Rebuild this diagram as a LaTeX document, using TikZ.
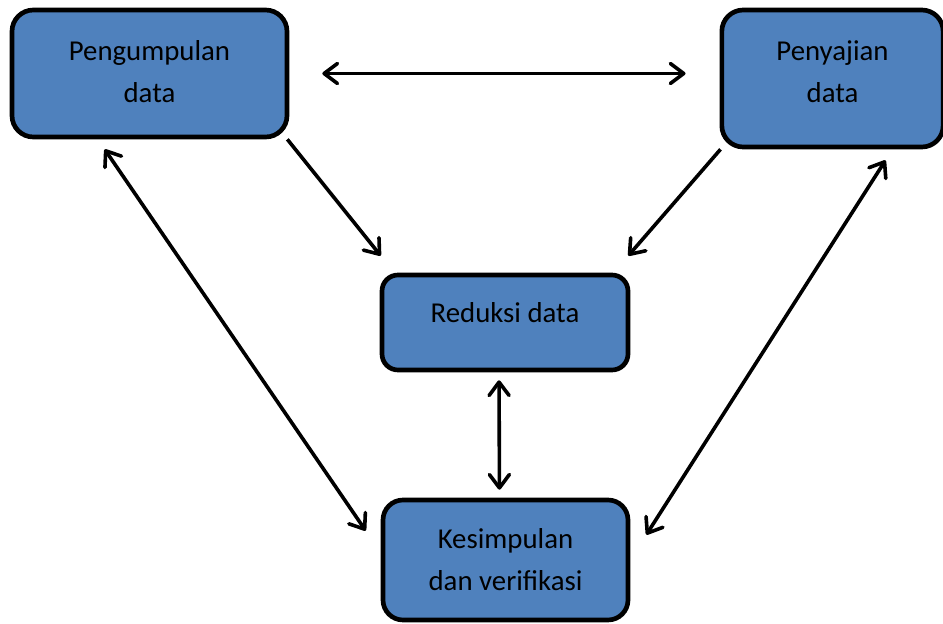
\documentclass[tikz,border=0pt]{standalone}
\usepackage{fontspec}
\setmainfont{Carlito}
\usetikzlibrary{arrows.meta}

\definecolor{stageblue}{RGB}{79,129,189}

\begin{document}
\begin{tikzpicture}[x=0.75pt, y=-0.75pt,
    >={Straight Barb[length=10pt, width=15pt, round]},
    stage/.style={draw=black, line width=3.5pt, fill=stageblue, rounded corners=16pt,
                  align=center, inner sep=0pt, font=\fontsize{21.6}{31.5}\selectfont},
    flow/.style={line width=2.7pt, black}]
  \useasboundingbox (0,0) rectangle (943,624);

  % Stages
  \node[stage, minimum width=206.25pt, minimum height=95.25pt,
        text height=43pt, text depth=0pt] (pengumpulan) at (149.5, 73.5)
    {Pengumpulan\\data};
  \node[stage, minimum width=166pt, minimum height=102.75pt,
        text height=36.25pt, text depth=0pt] (penyajian) at (832.5, 78.5)
    {Penyajian\\data};
  \node[stage, minimum width=184.5pt, minimum height=71.25pt, rounded corners=12pt,
        text height=10pt, text depth=10.5pt] (reduksi) at (505, 322.5)
    {Reduksi data};
  \node[stage, minimum width=183.75pt, minimum height=90pt, rounded corners=15pt] (kesimpulan) at (505.5, 560)
    {Kesimpulan\\dan verifikasi};

  % Top link
  \draw[flow, <->, shorten <=24.75pt, shorten >=25.5pt]
        (pengumpulan.east) -- (pengumpulan.east -| penyajian.west);

  % Into reduction
  \draw[flow, ->] ([shift={(-2,0)}]pengumpulan.south east) -- ([shift={(1,-17)}]reduksi.north west);
  \draw[flow, ->] ([shift={(1,0)}]penyajian.south west) -- ([shift={(-2,-17)}]reduksi.north east);

  % Outer links
  \draw[flow, <->] ([shift={(95,10)}]pengumpulan.south west) -- ([shift={(-15,33)}]kesimpulan.north west);
  \draw[flow, <->] ([shift={(-60,11)}]penyajian.south east) -- ([shift={(16,37)}]kesimpulan.north east);

  % Reduction to conclusion
  \draw[flow, <->, shorten <=6pt, shorten >=6pt]
        ([xshift=-4.5pt]reduksi.south) -- ([xshift=-4.5pt]kesimpulan.north);
\end{tikzpicture}
\end{document}
